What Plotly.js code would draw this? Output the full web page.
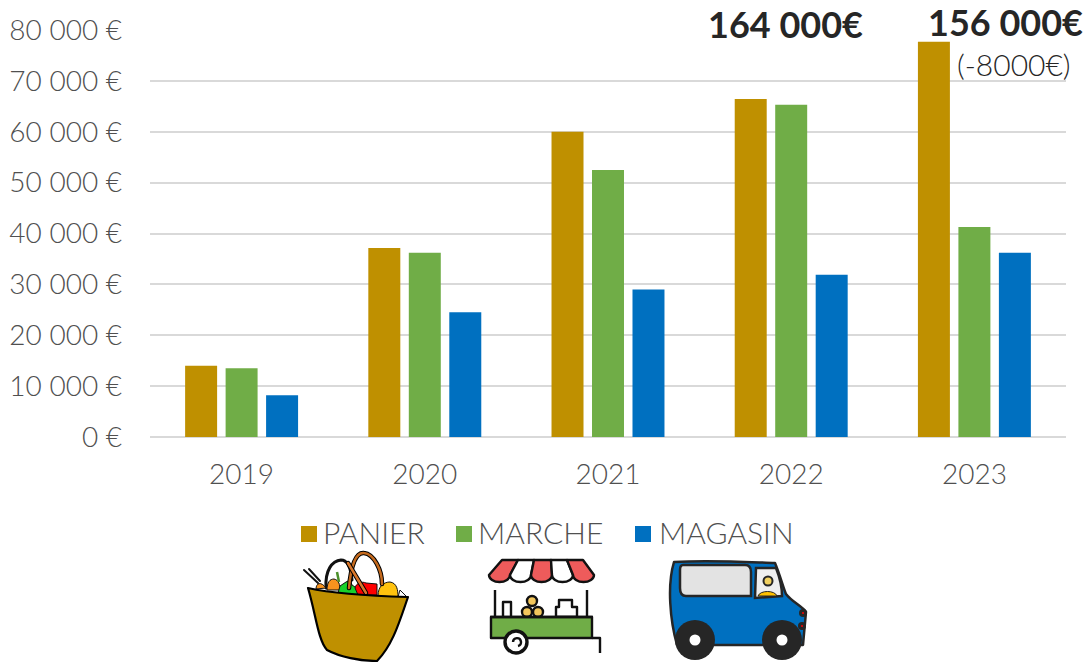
<!DOCTYPE html>
<html><head><meta charset="utf-8">
<script src="https://cdn.plot.ly/plotly-3.0.1.min.js"></script>
<style>html,body{margin:0;padding:0;background:#fff}#c{width:1087px;height:662px}</style>
</head><body><div id="c"></div>
<script>
const years = ['2019','2020','2021','2022','2023'];
const panier = [14000,37150,60000,66450,77700];
const marche = [13500,36200,52500,65300,41300];
const magasin = [8200,24500,29000,31900,36200];
const seriesNames = ['PANIER','MARCHE','MAGASIN'];
const colors = ['#BF9000','#70AD47','#0070C0'];
const yTicks = [0,10000,20000,30000,40000,50000,60000,70000,80000];
const yLabels = ['0 €','10 000 €','20 000 €','30 000 €','40 000 €','50 000 €','60 000 €','70 000 €','80 000 €'];
const legendSwatchX = [301,456,635];
const legendTextX = [321,476,657];

const W=1087,H=662,L=150,R=1066,T=30,B=437;
const px=x=>(x-L)/(R-L), py=y=>(B-y)/(B-T);
const FONT='Lato, sans-serif';

function svgUri(vb,body){
  const s='<svg xmlns="http://www.w3.org/2000/svg" viewBox="'+vb+'">'+body+'</svg>';
  return 'data:image/svg+xml;base64,'+btoa(s);
}
const basketSvg = svgUri('300 550 112 112',
 '<g fill="none" stroke-linecap="round">'+
 '<path d="M304 570L318 583M309 569L320 581" stroke="#111" stroke-width="2"/>'+
 '<path d="M326 588C325 570 332 561 341 560C348 560 351 570 352 580" stroke="#111" stroke-width="3"/>'+
 '</g>'+
 '<path d="M316 589C316 583 321 581 326 588Z" fill="#F7931E" stroke="#111"/>'+
 '<path d="M327 590C327 582 330 579 334 579C339 580 340 585 340 590Z" fill="#F7931E" stroke="#111"/>'+
 '<path d="M337 572L339 582" stroke="#4a8f2a" stroke-width="2.5" fill="none"/>'+
 '<path d="M338 593L340 586L346 582L350 580L352 585L358 589L359 595Z" fill="#16D12B" stroke="#111"/>'+
 '<path d="M355 588C356 583 362 581 366 583L377 584L377 595L358 595Z" fill="#F00" stroke="#111"/>'+
 '<path d="M378 596C378 586 384 582 390 582C397 583 398 590 398 597Z" fill="#FFC20E" stroke="#111"/>'+
 '<path d="M398 597L400 590L407 597Z" fill="#fff" stroke="#111"/>'+
 '<g fill="none" stroke-linecap="round">'+
 '<path d="M349 588C351 565 356 552 364 553C374 554 382 570 382 584" stroke="#000" stroke-width="4.5"/>'+
 '<path d="M349 588C351 565 356 552 364 553C374 554 382 570 382 584" stroke="#C56A1D" stroke-width="2.5"/>'+
 '<path d="M348 563L366 593" stroke="#000" stroke-width="4.5"/>'+
 '<path d="M348 563L366 593" stroke="#D9772A" stroke-width="2.5"/>'+
 '</g>'+
 '<path d="M308 588C335 594 375 596 408 597C400 620 393 645 377 661C360 661 340 657 327 650C318 640 316 615 308 588Z" fill="#BF9000" stroke="#000" stroke-width="2.2" stroke-linejoin="round"/>');
const marketSvg = svgUri('484 556 120 100',
 '<g stroke="#111" stroke-width="2.4" stroke-linejoin="round">'+
 '<path d="M502 560H518L510 575A10.5 7 0 0 1 489 575Z" fill="#EE5B5B"/>'+
 '<path d="M518 560H534L531 575A10.5 7 0 0 1 510 575Z" fill="#fff"/>'+
 '<path d="M534 560H551L552 575A10.5 7 0 0 1 531 575Z" fill="#EE5B5B"/>'+
 '<path d="M551 560H567L573 575A10.5 7 0 0 1 552 575Z" fill="#fff"/>'+
 '<path d="M567 560H583L594 575A10.5 7 0 0 1 573 575Z" fill="#EE5B5B"/>'+
 '<path d="M495 590V617M587 590V617" fill="none"/>'+
 '<path d="M503 617V602H511V617" fill="#fff"/>'+
 '<circle cx="532" cy="601" r="5" fill="#F2C65C"/><circle cx="527" cy="612" r="5" fill="#F2C65C"/><circle cx="538" cy="612" r="5" fill="#F2C65C"/>'+
 '<path d="M556 617V607H559V600H572V607H577V617Z" fill="#fff"/>'+
 '<rect x="491" y="617" width="101" height="21" fill="#70AD47"/>'+
 '<path d="M490 617H593M592 638H600V653" fill="none"/>'+
 '<circle cx="516" cy="642" r="11" fill="#fff" stroke-width="3.4"/>'+
 '<path d="M513 642A4 4 0 1 1 518 646" fill="none"/>'+
 '</g>');
const vanSvg = svgUri('664 554 148 108',
 '<path d="M674 562C710 560 745 562 775 563C780 575 784 590 786 594C792 602 802 606 806 612L803 645H677C670 620 667 585 674 562Z" fill="#0070C0" stroke="#262626" stroke-width="2.5" stroke-linejoin="round"/>'+
 '<path d="M683 565H745C750 565 751 568 751 572V596H686C681 596 680 592 680 588V570C680 567 681 565 683 565Z" fill="#E3E3E3" stroke="#262626" stroke-width="2.5"/>'+
 '<path d="M756 568H776C780 578 782 590 782 596L755 598Z" fill="#EFEFEF" stroke="#262626" stroke-width="2.5"/>'+
 '<circle cx="768" cy="581" r="4.5" fill="#F0D060" stroke="#262626" stroke-width="2"/>'+
 '<path d="M758 596C760 590 775 590 777 596Z" fill="#FFC000" stroke="#262626" stroke-width="1"/>'+
 '<circle cx="695" cy="640" r="20" fill="#262626"/><circle cx="695" cy="640" r="5.5" fill="#fff"/>'+
 '<circle cx="782" cy="640" r="20" fill="#262626"/><circle cx="782" cy="640" r="5.5" fill="#fff"/>'+
 '<circle cx="803" cy="613" r="4" fill="#262626"/><circle cx="803" cy="613" r="1" fill="#F00"/>'+
 '<circle cx="802" cy="626" r="4" fill="#262626"/><circle cx="802" cy="626" r="1" fill="#F00"/>');

function img(source,x,y,w,h){
  return {source,xref:'paper',yref:'paper',x:px(x),y:py(y),sizex:w/(R-L),sizey:h/(B-T),
          xanchor:'left',yanchor:'top',sizing:'stretch',layer:'above'};
}
function note(text,x,y,size,bold,color,anchor){
  return {text:text,xref:'paper',yref:'paper',x:px(x),y:py(y),
          xanchor:anchor||'center',yanchor:'middle',showarrow:false,
          font:{family:FONT,size,color,weight:bold?700:300}};
}
const traces=[panier,marche,magasin].map((v,i)=>({
  type:'bar',x:years,y:v,name:seriesNames[i],marker:{color:colors[i]},hoverinfo:'x+y',showlegend:false
}));
const tickFont={size:28,color:'#505050',family:FONT,weight:300};
const layout={
  width:W,height:H,margin:{l:L,r:W-R,t:T,b:H-B,pad:0},
  paper_bgcolor:'#fff',plot_bgcolor:'#fff',
  barmode:'group',bargap:0.337,bargroupgap:0.21,showlegend:false,
  font:{family:FONT,color:'#505050',size:28},
  xaxis:{type:'category',range:[-0.5,4.5],showgrid:false,zeroline:false,showline:false,
         ticks:'',ticklen:0,tickfont:tickFont,automargin:false,ticklabelstandoff:18},
  yaxis:{range:[0,80000],tickmode:'array',tickvals:yTicks,ticktext:yLabels,showgrid:true,
         gridcolor:'#D9D9D9',gridwidth:2,zeroline:true,zerolinecolor:'#D9D9D9',zerolinewidth:2,
         ticks:'',tickfont:tickFont,automargin:false,ticklabelstandoff:27},
  shapes:seriesNames.map((n,i)=>({type:'rect',xref:'paper',yref:'paper',
         x0:px(legendSwatchX[i]),x1:px(legendSwatchX[i]+16),y0:py(542),y1:py(526),
         fillcolor:colors[i],line:{width:0}})),
  annotations:[
    note('164 000€',785,24,36,true,'#262626'),
    note('156 000€',1005,22,36,true,'#262626'),
    note('(-8000€)',1014,64,30,false,'#262626')
  ].concat(seriesNames.map((n,i)=>note(n,legendTextX[i],532,30,false,'#505050','left'))),
  images:[
    img(basketSvg,300,550,112,112),
    img(marketSvg,484,556,120,100),
    img(vanSvg,664,554,148,108)
  ]
};
Plotly.newPlot('c',traces,layout,{displayModeBar:false});
</script></body></html>
